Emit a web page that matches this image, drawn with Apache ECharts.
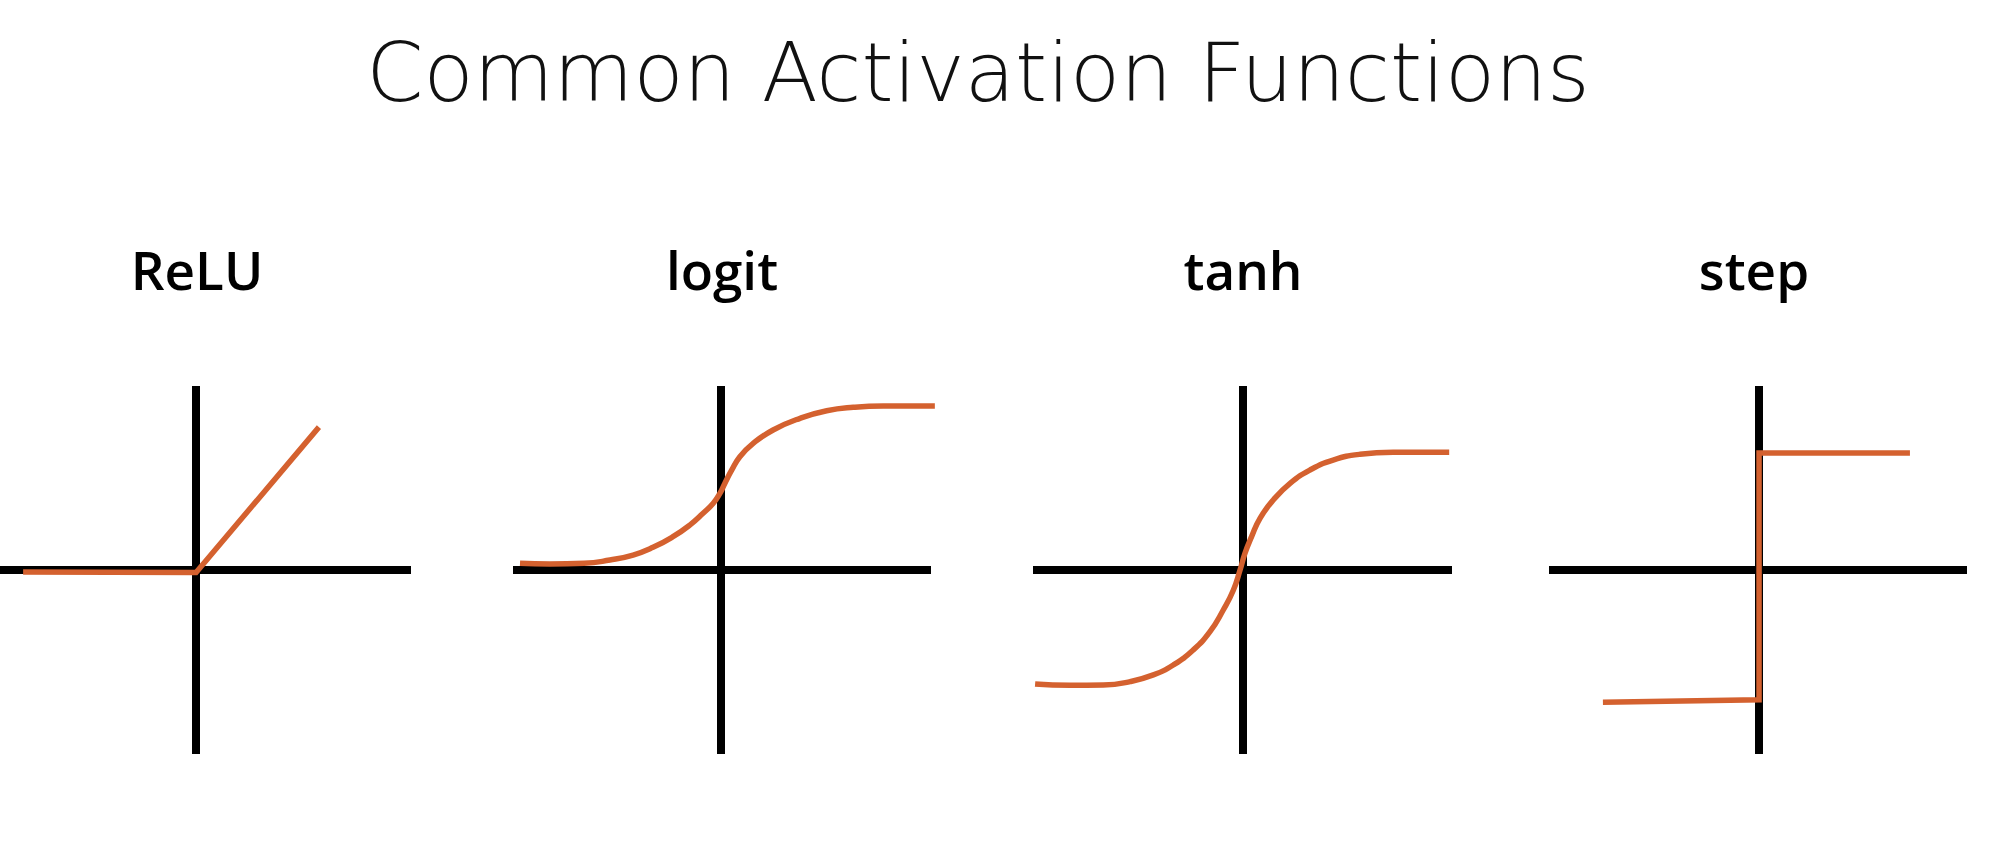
<!DOCTYPE html>
<html><head><meta charset="utf-8">
<script src="https://cdn.jsdelivr.net/npm/echarts@6/dist/echarts.min.js"></script>
<style>html,body{margin:0;padding:0;background:#fff}#c{width:2012px;height:860px}#c text{font-variant-ligatures:none;font-feature-settings:"liga" 0}</style>
</head><body><div id="c"></div>
<script>
// ---- data ----
const chartTitle = 'Common Activation Functions';
const panelNames = ['ReLU', 'logit', 'tanh', 'step'];
const reluPoints = [[-4.94, -0.05], [0, -0.06], [3.51, 3.51]];
const logitPoints = [[-5.74, 0.041], [-4.89, 0.037], [-3.91, 0.041], [-3.17, 0.061], [-2.51, 0.091], [-1.94, 0.138],
  [-1.37, 0.203], [-0.89, 0.274], [-0.51, 0.346], [-0.22, 0.407], [-0.03, 0.467], [0.11, 0.528], [0.31, 0.610],
  [0.54, 0.691], [0.92, 0.772], [1.49, 0.854], [2.26, 0.925], [3.02, 0.971], [3.78, 0.992], [4.64, 1.0], [6.11, 1.0]];
const tanhPoints = [[-5.93, -0.974], [-4.93, -0.986], [-3.98, -0.983], [-3.21, -0.954], [-2.55, -0.897], [-1.98, -0.812],
  [-1.41, -0.684], [-0.93, -0.527], [-0.55, -0.342], [-0.26, -0.171], [-0.07, 0], [0.07, 0.142], [0.26, 0.285],
  [0.5, 0.442], [0.88, 0.598], [1.36, 0.741], [1.93, 0.855], [2.59, 0.940], [3.36, 0.989], [4.31, 1.006], [5.91, 1.006]];
const stepPoints = [[-4.46, -1.13], [0, -1.11], [0, 1], [4.31, 1]];
const xRanges = [[-5.6, 6.14], [-5.94, 6.0], [-5.99, 5.99], [-6.0, 5.94]];
const yRanges = [[-4.52, 4.52], [-1.122, 1.122], [-1.573, 1.573], [-1.573, 1.573]];
const seriesData = [reluPoints, logitPoints, tanhPoints, stepPoints];
const smoothFlags = [false, true, true, false];

// ---- layout ----
const grids = [
  {left: 0, top: 386, width: 411, height: 368},
  {left: 513, top: 386, width: 418, height: 368},
  {left: 1033, top: 386, width: 419, height: 368},
  {left: 1549, top: 386, width: 418, height: 368}
];
const labelX = [197, 722, 1243, 1754];
const ORANGE = '#D4612F';

const chart = echarts.init(document.getElementById('c'), null, {renderer: 'svg'});
const axisCommon = {
  type: 'value',
  axisLine: {show: true, onZero: true, lineStyle: {color: '#000', width: 8, cap: 'butt'}},
  axisTick: {show: false}, axisLabel: {show: false}, splitLine: {show: false}
};
const option = {
  backgroundColor: '#fff',
  animation: false,
  grid: grids.map(g => Object.assign({containLabel: false}, g)),
  xAxis: xRanges.map((r, i) => Object.assign({}, axisCommon, {gridIndex: i, min: r[0], max: r[1]})),
  yAxis: yRanges.map((r, i) => Object.assign({}, axisCommon, {gridIndex: i, min: r[0], max: r[1]})),
  series: seriesData.map((d, i) => ({
    type: 'line', xAxisIndex: i, yAxisIndex: i, data: d,
    smooth: smoothFlags[i] ? 0.5 : false,
    showSymbol: false, symbol: 'none', clip: false, z: 5,
    lineStyle: {color: ORANGE, width: 5.5, cap: 'butt', join: 'miter'}
  })),
  graphic: [
    {type: 'text', x: 978, y: 31, z: 10,
      style: {text: chartTitle, font: '200 82px "DejaVu Sans"', fill: '#111', textAlign: 'center', textVerticalAlign: 'top'}}
  ].concat(panelNames.map((n, i) => ({
    type: 'text', x: labelX[i], y: 269, z: 10,
    style: {text: n, font: '600 53px "Open Sans"', fill: '#000', textAlign: 'center', textVerticalAlign: 'middle'}
  })))
};
chart.setOption(option);
</script></body></html>
